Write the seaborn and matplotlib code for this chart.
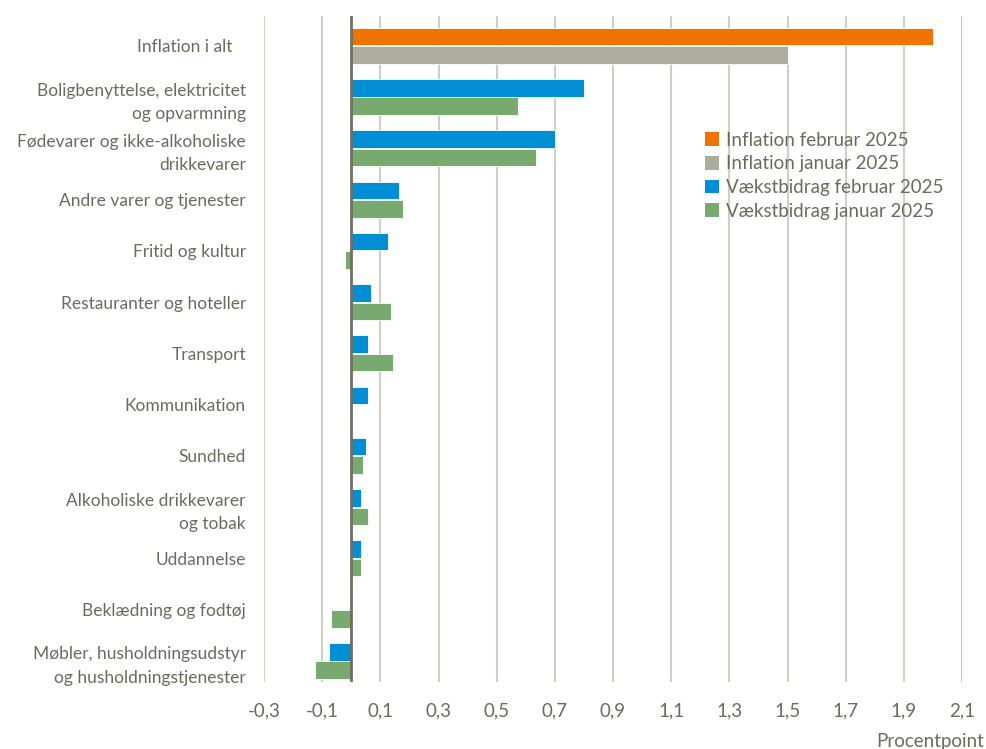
import matplotlib
matplotlib.use("Agg")
import matplotlib.pyplot as plt
import seaborn as sns
import pandas as pd
from matplotlib.patches import Patch

categories = [
    "Inflation i alt   ",
    "Boligbenyttelse, elektricitet\nog opvarmning",
    "Fødevarer og ikke-alkoholiske\ndrikkevarer",
    "Andre varer og tjenester",
    "Fritid og kultur",
    "Restauranter og hoteller",
    "Transport",
    "Kommunikation",
    "Sundhed",
    "Alkoholiske drikkevarer\nog tobak",
    "Uddannelse",
    "Beklædning og fodtøj",
    "Møbler, husholdningsudstyr\nog husholdningstjenester",
]
# first row: inflation (feb / jan); other rows: growth contributions (feb / jan)
februar_2025 = [2.0, 0.80, 0.70, 0.165, 0.128, 0.068, 0.058, 0.057, 0.052, 0.035, 0.032, 0.0, -0.078]
januar_2025 = [1.5, 0.575, 0.636, 0.178, -0.02, 0.137, 0.142, 0.0, 0.040, 0.059, 0.032, -0.068, -0.125]
legend_labels = ["Inflation februar 2025", "Inflation januar 2025",
                 "Vækstbidrag februar 2025", "Vækstbidrag januar 2025"]
xticks = [-0.3, -0.1, 0.1, 0.3, 0.5, 0.7, 0.9, 1.1, 1.3, 1.5, 1.7, 1.9, 2.1]

ORANGE = "#f07300"
GREY = "#adad9f"
BLUE = "#008fd5"
GREEN = "#78a96e"
TEXT = "#6b6b5c"
GRID = "#cfcfc4"
ZERO = "#6e6e62"

df = pd.DataFrame({
    "kategori": categories * 2,
    "periode": ["feb"] * len(categories) + ["jan"] * len(categories),
    "værdi": februar_2025 + januar_2025,
})

sns.set_style("white")
plt.rcParams["font.family"] = ["Lato", "DejaVu Sans"]

fig = plt.figure(figsize=(9.86, 7.49), dpi=100)
ax = fig.add_axes([264 / 986, 1 - 682 / 749, (962 - 264) / 986, (682 - 16) / 749])

sns.barplot(data=df, y="kategori", x="værdi", hue="periode", order=categories,
            hue_order=["feb", "jan"], palette=[BLUE, GREEN], orient="h",
            saturation=1, width=0.72, gap=0.05, edgecolor="white", linewidth=0.6,
            legend=False, ax=ax, zorder=3)

# first category: inflation bars in orange / grey
ax.containers[0][0].set_facecolor(ORANGE)
ax.containers[1][0].set_facecolor(GREY)

ax.set_xlim(-0.3, 2.1)
ax.set_ylim(12.41, -0.58)
ax.set_xticks(xticks)
ax.set_xticklabels([f"{t:.1f}".replace(".", ",") for t in xticks])
ax.grid(axis="x", color=GRID, linewidth=1.5, zorder=0)
ax.grid(axis="y", visible=False)
ax.axvline(0, color=ZERO, linewidth=2, zorder=4)
for s in ax.spines.values():
    s.set_visible(False)

ax.set_xlabel("")
ax.set_ylabel("")
ax.tick_params(axis="x", length=0, pad=15, labelsize=13.5, labelcolor=TEXT)
ax.tick_params(axis="y", length=0, pad=13, labelsize=12.5, labelcolor=TEXT)
for lab in ax.get_yticklabels():
    lab.set_horizontalalignment("right")
    lab.set_multialignment("right")
    lab.set_linespacing(1.55)

fig.text(984 / 986, 1 - 741 / 749, "Procentpoint", ha="right", va="center",
         fontsize=13.5, color=TEXT)

handles = [Patch(facecolor=c, edgecolor="none") for c in [ORANGE, GREY, BLUE, GREEN]]
leg = fig.legend(handles, legend_labels, loc="upper left",
                 bbox_to_anchor=(697 / 986, 1 - 124 / 749), frameon=False,
                 fontsize=13.5, handlelength=0.75, handleheight=0.75,
                 handletextpad=0.4, labelspacing=0.36, borderaxespad=0)
for t in leg.get_texts():
    t.set_color(TEXT)

fig.savefig("out.png", dpi=100)
